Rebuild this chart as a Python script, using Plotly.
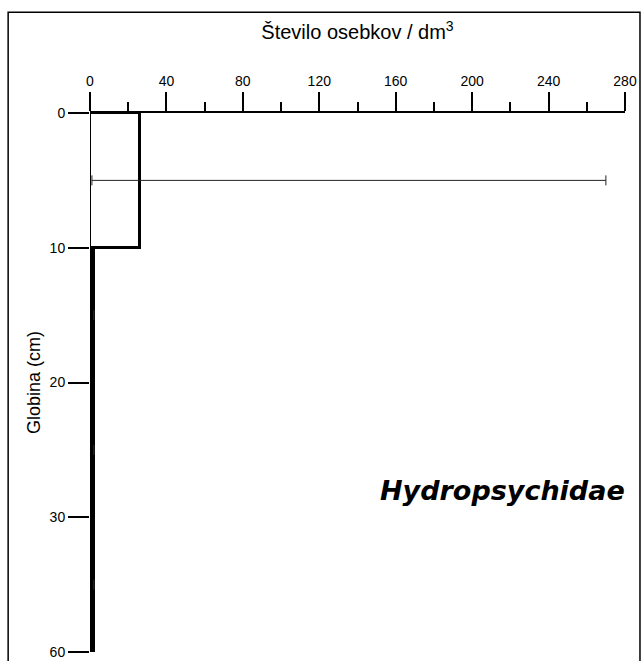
import plotly.graph_objects as go

# Depth layers (cm) and mean densities (individuals / dm3)
depth_ticks = ["0", "10", "20", "30", "60"]
layer_pos = [0.5, 1.5, 2.5, 3.5]          # centres of layers 0-10, 10-20, 20-30, 30-60
density = [26, 2, 2, 2]
err_plus = [244, 0, 0, 0]
err_minus = [25, 0, 0, 0]
x_ticks = [0, 40, 80, 120, 160, 200, 240, 280]

fig = go.Figure()

fig.add_trace(go.Bar(
    x=density, y=layer_pos, orientation="h", width=1,
    marker=dict(color=["white", "black", "black", "black"],
                line=dict(color="black", width=3)),
    error_x=dict(type="data", symmetric=False, array=err_plus, arrayminus=err_minus,
                 color="#222", thickness=1, width=5),
    showlegend=False,
))

fig.add_annotation(
    x=216, y=2.8, xref="x", yref="y", text="<b><i>Hydropsychidae</i></b>",
    showarrow=False, font=dict(family="DejaVu Sans", size=27, color="black"),
)

# Outer frame
fig.add_shape(type="rect", xref="paper", yref="paper",
              x0=-0.153, x1=1.028, y0=-0.2, y1=1.187,
              line=dict(color="black", width=1.5), layer="above")

tick_font = dict(family="Liberation Sans", size=14, color="black")

fig.update_xaxes(
    side="top", range=[0, 280], tickvals=x_ticks, automargin=False,
    ticklabeloverflow="allow",
    showline=True, linecolor="black", linewidth=2,
    ticks="outside", ticklen=19, tickwidth=2, tickcolor="black",
    minor=dict(dtick=20, ticklen=9, tickwidth=1.5, ticks="outside", tickcolor="black"),
    showgrid=False, zeroline=False, tickfont=tick_font,
    title=dict(text="Število osebkov / dm<sup>3</sup>",
               font=dict(family="Liberation Sans", size=20, color="black"), standoff=28),
)

fig.update_yaxes(
    range=[4, 0], tickvals=[0, 1, 2, 3, 4], ticktext=depth_ticks, automargin=False,
    ticklabeloverflow="allow",
    showline=False, ticks="outside", ticklen=21, tickwidth=1.5, tickcolor="black",
    showgrid=False, zeroline=False, tickfont=tick_font,
    title=dict(text="Globina (cm)",
               font=dict(family="Liberation Sans", size=18, color="black"), standoff=4),
)

fig.update_layout(
    width=643, height=661,
    margin=dict(l=90, r=18, t=113, b=9),
    plot_bgcolor="white", paper_bgcolor="white",
    bargap=0,
)

fig.write_html("out.html")
